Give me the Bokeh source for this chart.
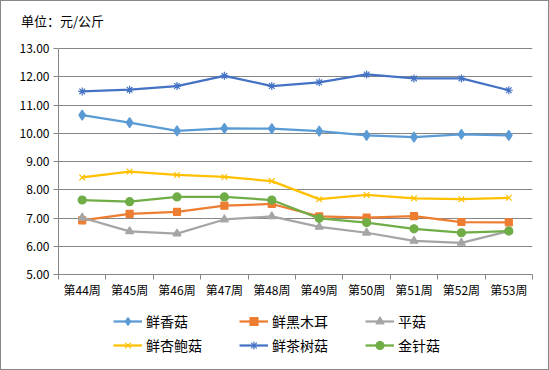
import numpy as np
from bokeh.plotting import figure
from bokeh.layouts import column
from bokeh.models import (Range1d, FixedTicker, PrintfTickFormatter, Legend,
                          LegendItem)
from bokeh.embed import file_html
from bokeh.resources import INLINE

weeks = ["第44周", "第45周", "第46周", "第47周", "第48周",
         "第49周", "第50周", "第51周", "第52周", "第53周"]
xiang_gu = [10.65, 10.38, 10.09, 10.18, 10.17, 10.08, 9.93, 9.87, 9.97, 9.93]
hei_mu_er = [6.92, 7.15, 7.22, 7.44, 7.50, 7.06, 7.02, 7.07, 6.86, 6.85]
ping_gu = [7.01, 6.53, 6.45, 6.95, 7.06, 6.69, 6.48, 6.19, 6.12, 6.54]
xing_bao_gu = [8.44, 8.65, 8.53, 8.46, 8.31, 7.67, 7.82, 7.70, 7.67, 7.72]
cha_shu_gu = [11.49, 11.55, 11.68, 12.04, 11.68, 11.81, 12.09, 11.95, 11.95, 11.53]
jin_zhen_gu = [7.64, 7.58, 7.75, 7.75, 7.64, 6.99, 6.84, 6.62, 6.48, 6.54]
y_ticks = [5, 6, 7, 8, 9, 10, 11, 12, 13]
unit_text = "单位：元/公斤"

series = [
    ("鲜香菇", xiang_gu, "#5B9BD5", "diamond", 10),
    ("鲜黑木耳", hei_mu_er, "#ED7D31", "square", 7),
    ("平菇", ping_gu, "#A5A5A5", "triangle", 8),
    ("鲜杏鲍菇", xing_bao_gu, "#FFC000", "x", 8),
    ("鲜茶树菇", cha_shu_gu, "#4472C4", "asterisk", 8),
    ("金针菇", jin_zhen_gu, "#70AD47", "circle", 8),
]

FONT = "Noto Sans CJK SC"
GRAY = "#868686"
W = 549

# plot-area geometry (pixels)
FRAME_TOP = 36          # top of the drawing frame
GRID_TOP = 48.3         # where the 13.00 line sits
FRAME_BOTTOM = 274.3    # where the 5.00 line / x axis sits
px_per_unit = (FRAME_BOTTOM - GRID_TOP) / (y_ticks[-1] - y_ticks[0])
y_end = y_ticks[-1] + (GRID_TOP - FRAME_TOP) / px_per_unit

# --- main chart ---
xs = np.arange(len(weeks)) + 0.5
p = figure(width=W, height=300, output_backend="svg", toolbar_location=None,
           x_range=Range1d(0, len(weeks)), y_range=Range1d(y_ticks[0], y_end),
           min_border_left=58, min_border_right=17, min_border_top=FRAME_TOP,
           min_border_bottom=26)
p.outline_line_color = None
p.border_fill_alpha = 0
p.background_fill_alpha = 0

for name, vals, color, marker, size in series:
    p.line(xs, vals, line_color=color, line_width=2.25)
    p.scatter(xs, vals, marker=marker, size=size, fill_color=color,
              line_color=color, line_width=1.2)

p.title.text = unit_text
p.title.align = "left"
p.title.offset = -37.6
p.title.standoff = 13
p.title.text_font = FONT
p.title.text_font_size = "13px"
p.title.text_font_style = "normal"
p.title.text_color = "black"

p.xaxis.ticker = FixedTicker(ticks=list(xs), minor_ticks=list(range(len(weeks) + 1)))
p.xaxis.major_label_overrides = {float(x): w for x, w in zip(xs, weeks)}
p.xaxis.major_tick_out = 0
p.xaxis.major_tick_in = 0
p.xaxis.minor_tick_out = 5
p.xaxis.minor_tick_in = 0
p.xaxis.minor_tick_line_color = GRAY
p.xaxis.axis_line_color = GRAY
p.xaxis.major_label_standoff = 1
p.xaxis.major_label_text_font = FONT
p.xaxis.major_label_text_font_size = "12px"
p.xaxis.major_label_text_color = "black"

p.yaxis.ticker = FixedTicker(ticks=y_ticks, minor_ticks=[])
p.yaxis.bounds = (y_ticks[0], y_ticks[-1])
p.yaxis.formatter = PrintfTickFormatter(format="%.2f")
p.yaxis.major_tick_out = 5
p.yaxis.major_tick_in = 0
p.yaxis.major_tick_line_color = GRAY
p.yaxis.axis_line_color = GRAY
p.yaxis.major_label_standoff = 4
p.yaxis.major_label_text_font = FONT
p.yaxis.major_label_text_font_size = "12px"
p.yaxis.major_label_text_color = "black"

p.xgrid.visible = False
p.ygrid.ticker = FixedTicker(ticks=y_ticks)
p.ygrid.grid_line_color = GRAY
p.ygrid.grid_line_width = 1

# --- legend strip (its own copies of the series, kept outside its view) ---
p2 = figure(width=W, height=70, output_backend="svg", toolbar_location=None,
            x_axis_type=None, y_axis_type=None, min_border=0,
            x_range=Range1d(len(weeks) + 10, len(weeks) + 11),
            y_range=Range1d(0, 1))
p2.outline_line_color = None
p2.border_fill_alpha = 0
p2.background_fill_alpha = 0
p2.xgrid.visible = False
p2.ygrid.visible = False
items = []
for name, vals, color, marker, size in series:
    ln = p2.line(xs, vals, line_color=color, line_width=2.25)
    sc = p2.scatter(xs, vals, marker=marker, size=size, fill_color=color,
                    line_color=color, line_width=1.2)
    items.append(LegendItem(label=name, renderers=[ln, sc]))

legend = Legend(items=items, orientation="horizontal", ncols=3,
                location=(55, 14.7), glyph_width=29, glyph_height=20,
                label_standoff=4, label_width=89, label_height=20, spacing=4,
                padding=0, margin=0, border_line_color=None,
                background_fill_alpha=0,
                label_text_font=FONT, label_text_font_size="14px",
                label_text_color="black")
p2.add_layout(legend, "center")

layout = column(p, p2, spacing=0,
                styles={"background": "white",
                        "outline": "1px solid #888888",
                        "outline-offset": "-1px"})
open("out.html", "w").write(file_html(layout, INLINE))
